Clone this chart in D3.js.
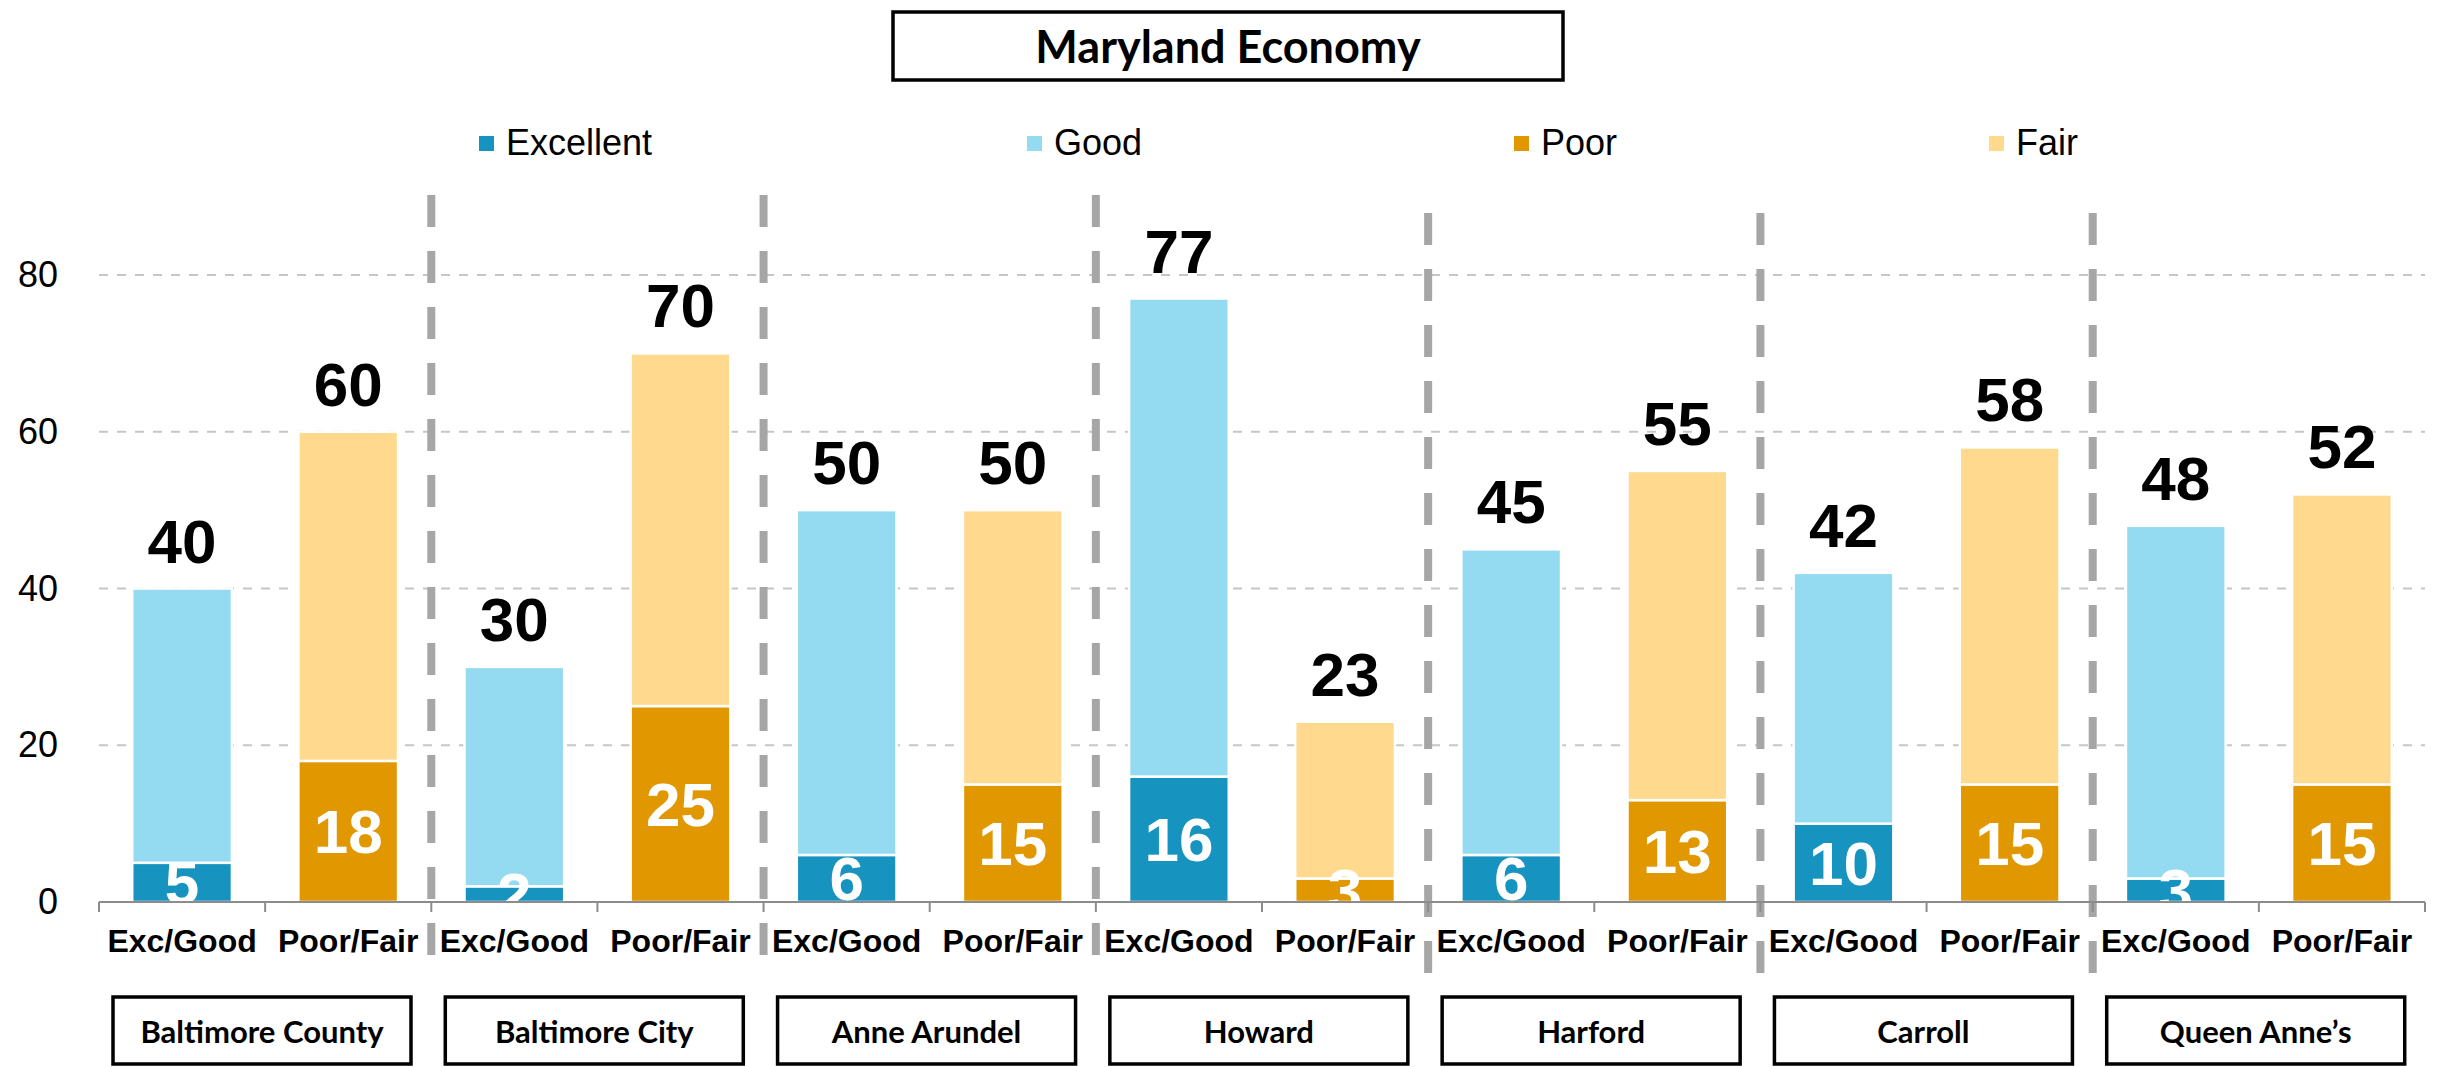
<!DOCTYPE html>
<html>
<head>
<meta charset="utf-8">
<script src="https://d3js.org/d3.v7.min.js"></script>
<style>
  body { margin: 0; background: #fff; }
  svg { display: block; }
</style>
<script>
// chart values
var counties = ["Baltimore County", "Baltimore City", "Anne Arundel", "Howard", "Harford", "Carroll", "Queen Anne\u2019s"];
var groups = ["Exc/Good", "Poor/Fair"];
var excellent = [5, 2, 6, 16, 6, 10, 3];
var good = [35, 28, 44, 61, 39, 32, 45];
var poor = [18, 25, 15, 3, 13, 15, 15];
var fair = [42, 45, 35, 20, 42, 43, 37];
var yTicks = [0, 20, 40, 60, 80];
var legendNames = ["Excellent", "Good", "Poor", "Fair"];
var title = "Maryland Economy";

function setup() {
  var W = 2459, H = 1067;
  var left = 99, right = 2425, base = 902, top80 = 275;

  var colors = { Excellent: "#1793c0", Good: "#94dbf2", Poor: "#e09700", Fair: "#fed98e" };
  var num = "'Liberation Sans', Arial, sans-serif";
  var cal = "Lato, 'Open Sans', sans-serif";

  // one slot per bar
  var slots = [];
  counties.forEach(function (c, i) {
    slots.push({ key: i + "-0", county: i, group: groups[0],
      segs: [{ s: "Excellent", v: excellent[i] }, { s: "Good", v: good[i] }] });
    slots.push({ key: i + "-1", county: i, group: groups[1],
      segs: [{ s: "Poor", v: poor[i] }, { s: "Fair", v: fair[i] }] });
  });
  slots.forEach(function (d) {
    var acc = 0;
    d.segs.forEach(function (g) { g.y0 = acc; acc += g.v; g.y1 = acc; });
    d.total = acc;
  });

  var x = d3.scaleBand().domain(slots.map(function (d) { return d.key; }))
    .range([left, right]).paddingInner(0.4).paddingOuter(0.2);
  var step = x.step();
  var y = d3.scaleLinear().domain([0, 80]).range([base, top80]);

  var svg = d3.select("#viz").append("svg").attr("width", W).attr("height", H);

  svg.append("defs").append("clipPath").attr("id", "plotclip")
    .append("rect").attr("x", 0).attr("y", 0).attr("width", W).attr("height", base + 2);

  // title box
  svg.append("rect").attr("x", 893).attr("y", 12).attr("width", 670).attr("height", 68)
    .attr("fill", "none").attr("stroke", "#000").attr("stroke-width", 3.5);
  svg.append("text").attr("x", 1228).attr("y", 63).attr("text-anchor", "middle")
    .style("font-family", cal).style("font-weight", 700).style("font-size", "45px")
    .text(title);

  // legend
  var legendX = [479, 1027, 1514, 1989];
  var leg = svg.selectAll(".leg").data(legendNames).enter().append("g")
    .attr("transform", function (d, i) { return "translate(" + legendX[i] + ",0)"; });
  leg.append("rect").attr("x", 0).attr("y", 136).attr("width", 15).attr("height", 15)
    .attr("fill", function (d) { return colors[d]; });
  leg.append("text").attr("x", 27).attr("y", 155)
    .style("font-family", num).style("font-size", "36px").text(function (d) { return d; });

  // gridlines
  svg.selectAll(".grid").data(yTicks.filter(function (t) { return t > 0; })).enter().append("line")
    .attr("x1", left).attr("x2", right)
    .attr("y1", function (d) { return y(d); }).attr("y2", function (d) { return y(d); })
    .attr("stroke", "#c6c6c6").attr("stroke-width", 2).attr("stroke-dasharray", "9 9");

  // y labels
  var yAxis = d3.axisLeft(y).tickValues(yTicks).tickSize(0).tickPadding(41);
  var ya = svg.append("g").attr("transform", "translate(" + left + ",0)").call(yAxis);
  ya.select(".domain").remove();
  ya.selectAll("text").style("font-family", num).style("font-size", "36px").attr("fill", "#000");

  // county separators
  var sepTop = [195, 195, 195, 213, 213, 213];
  svg.selectAll(".sep").data(d3.range(1, counties.length)).enter().append("line")
    .attr("x1", function (i) { return x(i + "-0") - step * 0.2; })
    .attr("x2", function (i) { return x(i + "-0") - step * 0.2; })
    .attr("y1", function (i) { return sepTop[i - 1]; })
    .attr("y2", function (i) { return sepTop[i - 1] + 760; })
    .attr("stroke", "#a6a6a6").attr("stroke-width", 8).attr("stroke-dasharray", "32 24");

  // bars
  var bars = svg.selectAll(".bar").data(slots).enter().append("g");
  bars.selectAll("rect").data(function (d) { return d.segs.map(function (g) { g.key = d.key; return g; }); })
    .enter().append("rect")
    .attr("x", function (g) { return x(g.key); })
    .attr("width", x.bandwidth())
    .attr("y", function (g) { return y(g.y1); })
    .attr("height", function (g) { return y(g.y0) - y(g.y1); })
    .attr("fill", function (g) { return colors[g.s]; })
    .attr("stroke", "#fff").attr("stroke-width", 2.5);

  // totals
  bars.append("text")
    .attr("x", function (d) { return x(d.key) + x.bandwidth() / 2; })
    .attr("y", function (d) { return y(d.total) - 26; })
    .attr("text-anchor", "middle")
    .style("font-family", num).style("font-weight", 700).style("font-size", "62px")
    .text(function (d) { return d.total; });

  // inner labels on the bottom segment
  svg.append("g").attr("clip-path", "url(#plotclip)")
    .selectAll("text").data(slots).enter().append("text")
    .attr("x", function (d) { return x(d.key) + x.bandwidth() / 2; })
    .attr("y", function (d) { var g = d.segs[0]; return (y(g.y0) + y(g.y1)) / 2 + 22; })
    .attr("text-anchor", "middle").attr("fill", "#fff")
    .style("font-family", num).style("font-weight", 700).style("font-size", "62px")
    .text(function (d) { return d.segs[0].v; });

  // x axis line and boundary ticks
  svg.append("line").attr("x1", left).attr("x2", right).attr("y1", base).attr("y2", base)
    .attr("stroke", "#8c8c8c").attr("stroke-width", 2);
  var bounds = slots.map(function (d) { return x(d.key) - step * 0.2; }).concat([right]);
  svg.selectAll(".tk").data(bounds).enter().append("line")
    .attr("x1", function (d) { return d; }).attr("x2", function (d) { return d; })
    .attr("y1", base).attr("y2", base + 10)
    .attr("stroke", "#8c8c8c").attr("stroke-width", 2);

  // group labels
  svg.selectAll(".gl").data(slots).enter().append("text")
    .attr("x", function (d) { return x(d.key) + x.bandwidth() / 2; })
    .attr("y", 952).attr("text-anchor", "middle")
    .style("font-family", num).style("font-weight", 700).style("font-size", "32px")
    .text(function (d) { return d.group; });

  // county boxes
  var cb = svg.selectAll(".cb").data(counties).enter().append("g");
  cb.append("rect")
    .attr("x", function (d, i) { return x(i + "-0") - step * 0.2 + 14; })
    .attr("y", 997).attr("width", 298).attr("height", 67)
    .attr("fill", "#fff").attr("stroke", "#000").attr("stroke-width", 3.5);
  cb.append("text")
    .attr("x", function (d, i) { return x(i + "-0") - step * 0.2 + 14 + 149; })
    .attr("y", 1043).attr("text-anchor", "middle")
    .style("font-family", cal).style("font-weight", 700).style("font-size", "31px")
    .text(function (d) { return d; });
}
</script>
</head>
<body onload="setup();">
<div id="viz"></div>
</body>
</html>
